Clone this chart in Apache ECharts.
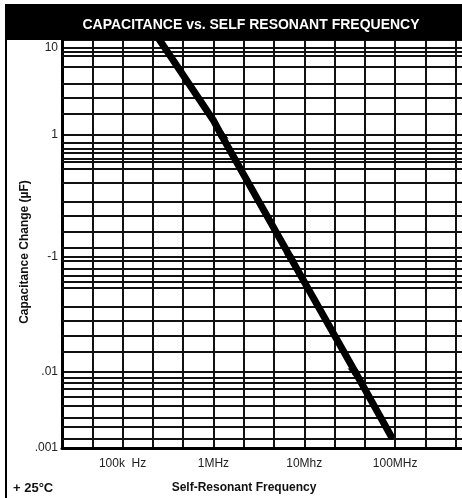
<!DOCTYPE html>
<html>
<head>
<meta charset="utf-8">
<script src="https://cdn.jsdelivr.net/npm/echarts@6/dist/echarts.min.js"></script>
<style>
  html, body { margin: 0; padding: 0; background: #fff; }
  #chart { width: 462px; height: 498px; }
</style>
</head>
<body>
<div id="chart"></div>
<script>
  // curve
  const freqHz = [2.27e5, 9.9e5, 1.22e6, 7.0e6, 3.64e7, 9.0e7]
  const capUF = [14.9, 1.5, 1.0, 0.1, 0.01, 0.00144]

  const xTickValues = [1e5, 1e6, 1e7, 1e8]
  const xTickLabels = ['100k  Hz', '1MHz', '10Mhz', '100MHz']
  const yTickValues = [10, 1, 0.1, 0.01, 0.001]
  const yTickLabels = ['10', '1', '-1', '.01', '.001']

  // one decade per band, top to bottom (the printed grid is uneven)
  const decadeMin = [1, 0.1, 0.01, 0.001]
  const decadeMax = [12.4, 1, 0.1, 0.01]
  // in-between horizontal rules of each band
  const minorLines = [
    [1.74, 2.66, 3.86, 6.05, 8.09, 9.0],
    [0.118, 0.161, 0.217, 0.284, 0.404, 0.526, 0.604, 0.636, 0.716, 0.768, 0.865],
    [0.0149, 0.0207, 0.0278, 0.0367, 0.0537, 0.0606, 0.0687, 0.0787, 0.0923],
    [0.00131, 0.00189, 0.00248, 0.00357, 0.00473, 0.00598, 0.00717, 0.00834]
  ]

  const bandTop = [40, 135, 257, 372]
  const bandHeight = [95, 122, 115, 76]
  const font = "'Liberation Sans', Arial, sans-serif"
  const lineColor = '#111'

  function findLabel (v, values, labels) {
    for (let i = 0; i < values.length; i++) {
      if (Math.abs(Math.log10(v) - Math.log10(values[i])) < 1e-4) return labels[i]
    }
    return ''
  }

  const curve = freqHz.map((f, i) => [f, capUF[i]])
  const last = bandTop.length - 1

  const grids = []
  const xAxes = []
  const yAxes = []
  const series = []
  bandTop.forEach((top, i) => {
    grids.push({ left: 62, width: 424, top: top, height: bandHeight[i], outerBoundsMode: 'none' })
    xAxes.push({
      type: 'log',
      gridIndex: i,
      logBase: Math.cbrt(10),
      min: Math.pow(10, 13 / 3),
      max: 1e9,
      interval: 1,
      axisLine: { show: i === last, onZero: false, lineStyle: { color: '#000', width: 3 } },
      axisTick: { show: false },
      axisLabel: {
        show: i === last,
        color: '#222',
        fontSize: 12,
        fontFamily: font,
        margin: 10,
        formatter: v => findLabel(v, xTickValues, xTickLabels)
      },
      splitLine: { show: true, lineStyle: { color: lineColor, width: 2 } }
    })
    yAxes.push({
      type: 'log',
      gridIndex: i,
      min: decadeMin[i],
      max: decadeMax[i],
      interval: 1,
      axisLine: { show: true, onZero: false, lineStyle: { color: '#000', width: 3 } },
      axisTick: { show: false },
      axisLabel: {
        color: '#222',
        fontSize: 12,
        fontFamily: font,
        margin: 4,
        formatter: v => {
          if (i !== last && Math.abs(v - decadeMin[i]) < decadeMin[i] * 1e-4) return ''
          return findLabel(v, yTickValues, yTickLabels)
        }
      },
      splitLine: { show: true, lineStyle: { color: lineColor, width: 2 } }
    })
    series.push({
      type: 'line',
      xAxisIndex: i,
      yAxisIndex: i,
      data: curve,
      symbol: 'none',
      clip: true,
      lineStyle: { color: '#000', width: 7, cap: 'round', join: 'round' },
      z: 5,
      markLine: {
        silent: true,
        precision: 6,
        symbol: ['none', 'none'],
        label: { show: false },
        lineStyle: { type: 'solid', color: lineColor, width: 2 },
        data: minorLines[i].map(v => ({ yAxis: v }))
      }
    })
  })

  const myChart = echarts.init(document.getElementById('chart'))
  const option = {
    animation: false,
    backgroundColor: '#fff',
    grid: grids,
    xAxis: xAxes,
    yAxis: yAxes,
    series: series,
    graphic: [
      {
        type: 'rect',
        shape: { x: 6, y: 5, width: 480, height: 520 },
        style: { fill: 'none', stroke: '#000', lineWidth: 2 },
        z: 0
      },
      {
        type: 'rect',
        shape: { x: 5, y: 5, width: 460, height: 35 },
        style: { fill: '#000' },
        z: 10
      },
      {
        type: 'text',
        x: 251,
        y: 25,
        z: 11,
        style: {
          text: 'CAPACITANCE vs. SELF RESONANT FREQUENCY',
          fill: '#fff',
          font: 'bold 14px ' + font,
          textAlign: 'center',
          textVerticalAlign: 'middle'
        }
      },
      {
        type: 'text',
        x: 25,
        y: 252,
        rotation: Math.PI / 2,
        style: {
          text: 'Capacitance Change (\u00b5F)',
          fill: '#111',
          font: 'bold 12px ' + font,
          textAlign: 'center',
          textVerticalAlign: 'middle'
        }
      },
      {
        type: 'text',
        x: 13,
        y: 488,
        style: {
          text: '+ 25\u00b0C',
          fill: '#111',
          font: 'bold 13px ' + font,
          textAlign: 'left',
          textVerticalAlign: 'middle'
        }
      },
      {
        type: 'text',
        x: 244,
        y: 488,
        style: {
          text: 'Self-Resonant Frequency',
          fill: '#111',
          font: 'bold 12px ' + font,
          textAlign: 'center',
          textVerticalAlign: 'middle'
        }
      }
    ]
  }
  myChart.setOption(option)
</script>
</body>
</html>
